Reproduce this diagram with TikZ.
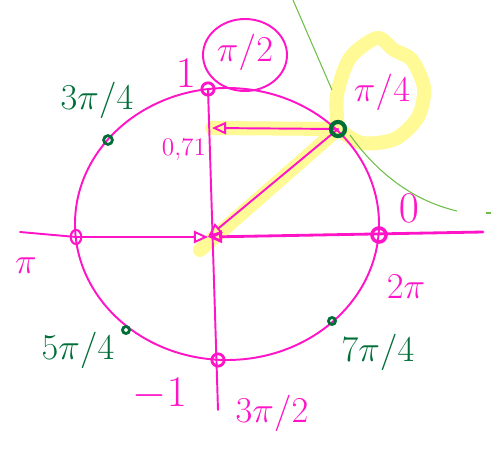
\documentclass[tikz,border=0pt]{standalone}
\usepackage{amsmath}
\usepackage{tikz}
\usetikzlibrary{arrows.meta, positioning, shapes.geometric}

\definecolor{pen}{RGB}{255,20,200}
\definecolor{ink}{RGB}{0,110,55}
\definecolor{hilite}{RGB}{255,250,150}
\definecolor{guide}{RGB}{110,190,70}

\begin{document}
\begin{tikzpicture}[
  x=0.02cm, y=-0.02cm,
  >={Triangle[open, length=8pt, width=7pt]},
  stroke/.style = {draw=pen, line width=1.1pt, line cap=round, line join=round},
  marker/.style = {hilite, line width=8pt, line cap=round, line join=round},
  pdot/.style   = {circle, draw=pen, line width=1.6pt, inner sep=0pt, minimum size=7pt},
  gdot/.style   = {circle, draw=ink, line width=1.6pt, inner sep=0pt, minimum size=5pt},
  plbl/.style   = {text=pen, font=\huge},
  glbl/.style   = {text=ink, font=\huge},
]
  \useasboundingbox (0,0) rectangle (491,450);

  % points on the circle
  \coordinate (C)  at (227,224);
  \coordinate (O)  at (208,237);
  \coordinate (R)  at (379,235);
  \coordinate (P1) at (338,129);
  \coordinate (T)  at (208,89);
  \coordinate (P3) at (108,140);
  \coordinate (L)  at (76,237);
  \coordinate (P5) at (126,330);
  \coordinate (B)  at (218,360);
  \coordinate (P7) at (332,321);
  \coordinate (yP) at (212,128);
  \coordinate (xend) at (483,232);
  \coordinate (xbeg) at (20,232);
  \coordinate (ybot) at (218,410);

  % yellow marker
  \draw[marker] (200,250) -- (P1) -- (yP);
  \draw[marker] plot[smooth] coordinates {(P1) (337,95) (350,58) (377,38) (394,50)
    (412,60) (424,88) (418,117) (395,139) (362,143) (P1)};

  % green guide lines
  \draw[guide, line width=0.6pt] (293,0) -- (332,90);
  \draw[guide, line width=0.6pt] (350,135) .. controls (375,170) and (410,200) .. (457,211);
  \draw[guide, line width=0.6pt] (486,213) -- (492,213);

  % circle and axes
  \draw[stroke] (C) ellipse (152 and 136);
  \draw[stroke] (xbeg) -- (L);
  \draw[stroke, line width=1.6pt, ->] (xend) -- (O);
  \draw[stroke, ->] (L) -- (O);
  \draw[stroke] (T) -- (ybot);
  \draw[stroke, ->] (P1) -- (O);
  \draw[stroke, ->] (P1) -- (yP);
  \draw[stroke] (245,55) ellipse (42 and 36);

  % dots
  \node[pdot] (dT) at (T) {};
  \node[pdot, minimum size=8pt, line width=2pt] (dR) at (R) {};
  \node[pdot, ellipse, minimum width=6pt, minimum height=8pt, line width=1.2pt] (dL) at (L) {};
  \node[pdot] (dB) at (B) {};
  \node[gdot, minimum size=8pt, line width=2.4pt] (d1) at (P1) {};
  \node[gdot] (d3) at (P3) {};
  \node[gdot, minimum size=4pt] (d5) at (P5) {};
  \node[gdot, minimum size=4pt] (d7) at (P7) {};

  % labels
  \node[plbl, font=\Huge] (one)  at (186,73)  {$1$};
  \node[plbl] (half)  at (245,52)  {$\pi/2$};
  \node[plbl] (quart) at (382,92)  {$\pi/4$};
  \node[plbl, font=\Large] (val) at (184,150) {$0{,}71$};
  \node[plbl, font=\Huge] (zero) at (409,208) {$0$};
  \node[plbl] (full)  at (406,287) {$2\pi$};
  \node[plbl] (pi)    at (26,266)  {$\pi$};
  \node[plbl, font=\Huge] (mone) at (160,394) {$-1$};
  \node[plbl] (three) at (272,413) {$3\pi/2$};
  \node[glbl] (l3)    at (97,100)  {$3\pi/4$};
  \node[glbl] (l5)    at (78,350)  {$5\pi/4$};
  \node[glbl] (l7)    at (378,352) {$7\pi/4$};
\end{tikzpicture}
\end{document}
